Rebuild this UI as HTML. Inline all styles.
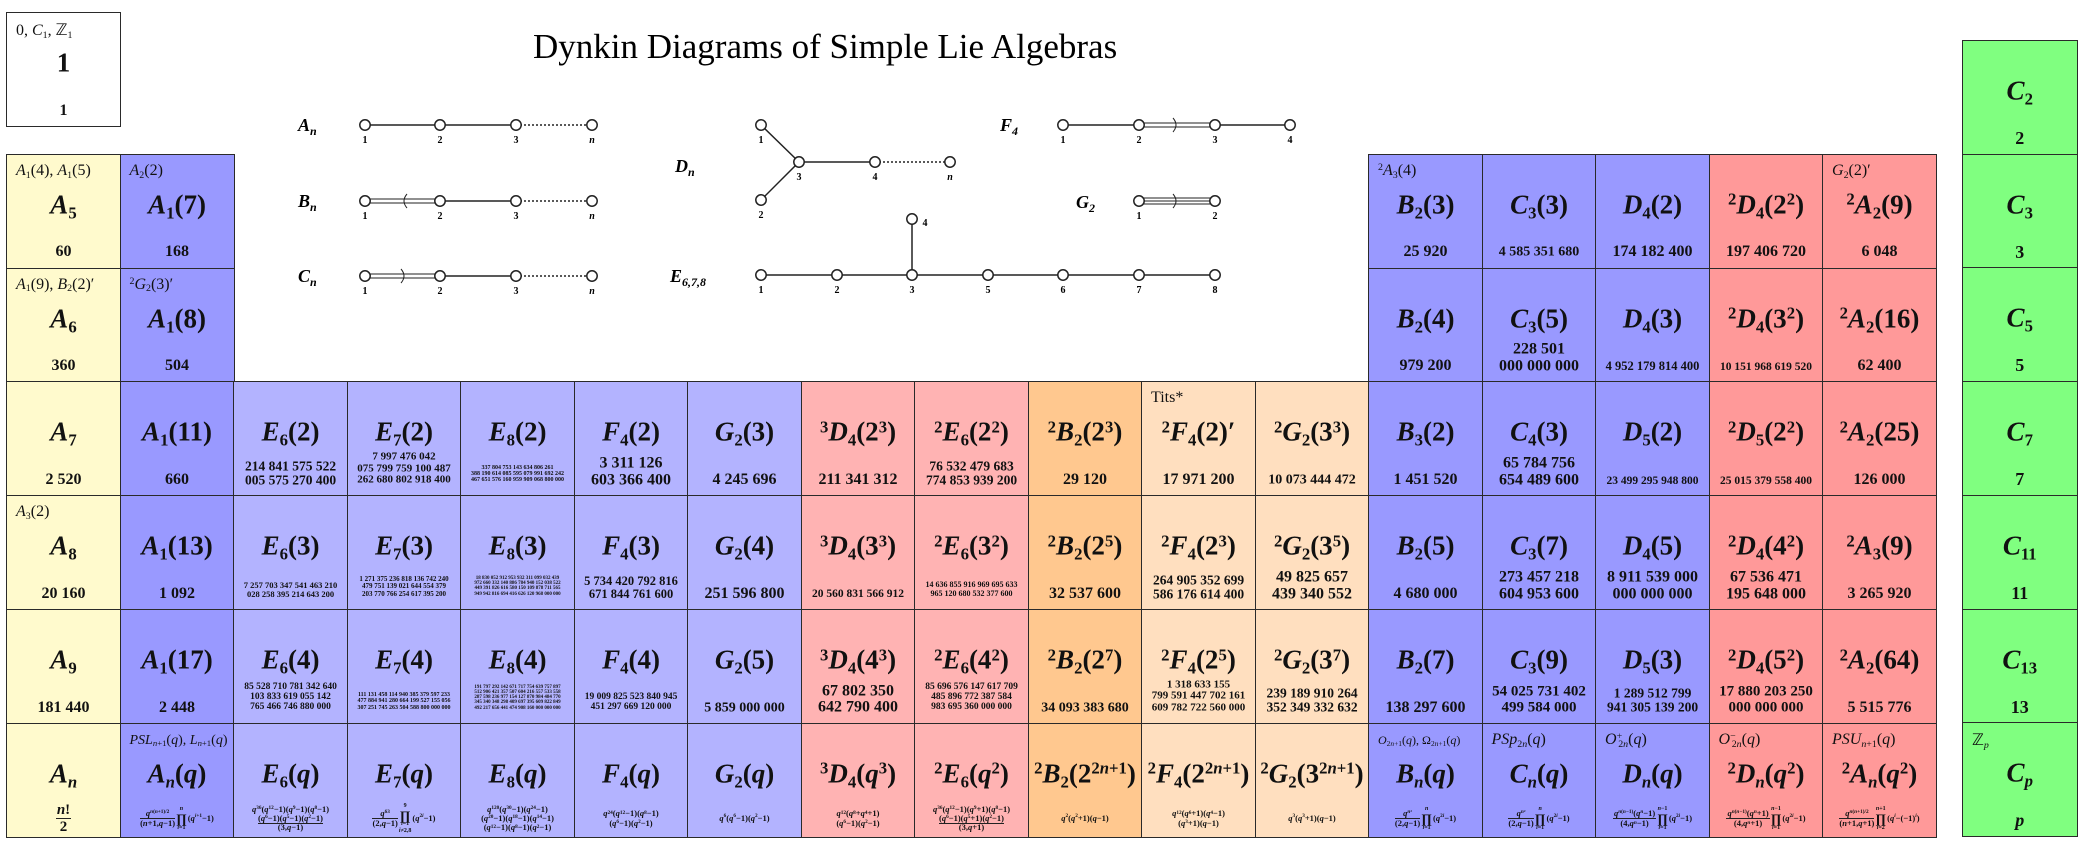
<!DOCTYPE html>
<html><head><meta charset="utf-8">
<style>
html,body{margin:0;padding:0;background:#fff;}
body{width:2084px;height:844px;position:relative;overflow:hidden;font-family:"Liberation Serif",serif;color:#111;}
.cell{position:absolute;box-sizing:border-box;border:1.5px solid #2a2a2a;}
.lab{position:absolute;left:9px;top:7px;font-size:16px;white-space:nowrap;}
.nm{position:absolute;left:0;right:0;top:50px;transform:translateY(-50%);text-align:center;font-weight:bold;font-size:27px;white-space:nowrap;line-height:1;}
.ord{position:absolute;left:0;right:0;text-align:center;font-weight:bold;white-space:nowrap;}
.ord div{line-height:1.05;}
sub,sup{font-size:62%;line-height:0;position:relative;vertical-align:baseline;}
sub{top:0.3em;} sup{top:-0.5em;}
.frm{position:absolute;left:0;right:0;top:80px;height:30px;display:flex;align-items:center;justify-content:center;font-size:8.5px;font-weight:bold;white-space:nowrap;line-height:1.1;text-align:center;}
.fr{display:inline-flex;flex-direction:column;vertical-align:middle;text-align:center;}
.fr .t{border-bottom:1px solid #222;padding:0 1px;}
.pr{display:inline-flex;flex-direction:column;vertical-align:middle;text-align:center;font-size:6px;margin:0 1px;}
.pr b{font-size:13px;line-height:0.9;}
</style></head>
<body>
<svg id="dyn" width="2084" height="844" style="position:absolute;left:0;top:0" xmlns="http://www.w3.org/2000/svg">
<text x="533" y="58" font-family="Liberation Serif" font-size="35">Dynkin Diagrams of Simple Lie Algebras</text>
</svg>
<div id="grid"></div>
<script>
var X0=6,CW=113.5,Y0=153.7,RH=113.8;
var colColors=["#fffacd","#9999ff","#b3b3ff","#b3b3ff","#b3b3ff","#b3b3ff","#b3b3ff","#ffb3b3","#ffb3b3","#ffc88f","#ffdfbf","#ffdfbf","#9999ff","#9999ff","#9999ff","#ff9999","#ff9999"];
function N(pre,L,sub,arg){return (pre?'<sup>'+pre+'</sup>':'')+'<i>'+L+'</i>'+(sub!==''?'<sub>'+sub+'</sub>':'')+(arg!==null?'('+arg+')':'');}
function fr(t,b){return '<span class="fr"><span class="t">'+t+'</span><span>'+b+'</span></span>';}
function pr(top,bot){return '<span class="pr"><span>'+top+'</span><b>&prod;</b><span>'+bot+'</span></span>';}
var q='<i>q</i>';
function qp(e){return q+'<sup>'+e+'</sup>';}
var cells=[
[0,0,N('','A','1','4')+', '+N('','A','1','5'),N('','A','5',null),["60"]],
[0,1,N('','A','2','2'),N('','A','1','7'),["168"]],
[0,12,N('2','A','3','4'),N('','B','2','3'),["25 920"]],
[0,13,'',N('','C','3','3'),["4 585 351 680"]],
[0,14,'',N('','D','4','2'),["174 182 400"]],
[0,15,'',N('2','D','4','2<sup>2</sup>'),["197 406 720"]],
[0,16,N('','G','2','2')+'&prime;',N('2','A','2','9'),["6 048"]],
[1,0,N('','A','1','9')+', '+N('','B','2','2')+'&prime;',N('','A','6',null),["360"]],
[1,1,N('2','G','2','3')+'&prime;',N('','A','1','8'),["504"]],
[1,12,'',N('','B','2','4'),["979 200"]],
[1,13,'',N('','C','3','5'),["228 501","000 000 000"]],
[1,14,'',N('','D','4','3'),["4 952 179 814 400"]],
[1,15,'',N('2','D','4','3<sup>2</sup>'),["10 151 968 619 520"]],
[1,16,'',N('2','A','2','16'),["62 400"]],
[2,0,'',N('','A','7',null),["2 520"]],
[2,1,'',N('','A','1','11'),["660"]],
[2,2,'',N('','E','6','2'),["214 841 575 522","005 575 270 400"]],
[2,3,'',N('','E','7','2'),["7 997 476 042","075 799 759 100 487","262 680 802 918 400"]],
[2,4,'',N('','E','8','2'),["337 804 753 143 634 806 261","388 190 614 085 595 079 991 692 242","467 651 576 160 959 909 068 800 000"]],
[2,5,'',N('','F','4','2'),["3 311 126","603 366 400"]],
[2,6,'',N('','G','2','3'),["4 245 696"]],
[2,7,'',N('3','D','4','2<sup>3</sup>'),["211 341 312"]],
[2,8,'',N('2','E','6','2<sup>2</sup>'),["76 532 479 683","774 853 939 200"]],
[2,9,'',N('2','B','2','2<sup>3</sup>'),["29 120"]],
[2,10,'Tits*',N('2','F','4','2')+'&prime;',["17 971 200"]],
[2,11,'',N('2','G','2','3<sup>3</sup>'),["10 073 444 472"]],
[2,12,'',N('','B','3','2'),["1 451 520"]],
[2,13,'',N('','C','4','3'),["65 784 756","654 489 600"]],
[2,14,'',N('','D','5','2'),["23 499 295 948 800"]],
[2,15,'',N('2','D','5','2<sup>2</sup>'),["25 015 379 558 400"]],
[2,16,'',N('2','A','2','25'),["126 000"]],
[3,0,N('','A','3','2'),N('','A','8',null),["20 160"]],
[3,1,'',N('','A','1','13'),["1 092"]],
[3,2,'',N('','E','6','3'),["7 257 703 347 541 463 210","028 258 395 214 643 200"]],
[3,3,'',N('','E','7','3'),["1 271 375 236 818 136 742 240","479 751 139 021 644 554 379","203 770 766 254 617 395 200"]],
[3,4,'',N('','E','8','3'),["18 830 052 912 953 932 311 099 032 439","972 660 332 140 886 784 940 152 038 522","449 391 826 616 580 150 109 878 711 565","949 942 816 694 416 626 120 968 000 000"]],
[3,5,'',N('','F','4','3'),["5 734 420 792 816","671 844 761 600"]],
[3,6,'',N('','G','2','4'),["251 596 800"]],
[3,7,'',N('3','D','4','3<sup>3</sup>'),["20 560 831 566 912"]],
[3,8,'',N('2','E','6','3<sup>2</sup>'),["14 636 855 916 969 695 633","965 120 680 532 377 600"]],
[3,9,'',N('2','B','2','2<sup>5</sup>'),["32 537 600"]],
[3,10,'',N('2','F','4','2<sup>3</sup>'),["264 905 352 699","586 176 614 400"]],
[3,11,'',N('2','G','2','3<sup>5</sup>'),["49 825 657","439 340 552"]],
[3,12,'',N('','B','2','5'),["4 680 000"]],
[3,13,'',N('','C','3','7'),["273 457 218","604 953 600"]],
[3,14,'',N('','D','4','5'),["8 911 539 000","000 000 000"]],
[3,15,'',N('2','D','4','4<sup>2</sup>'),["67 536 471","195 648 000"]],
[3,16,'',N('2','A','3','9'),["3 265 920"]],
[4,0,'',N('','A','9',null),["181 440"]],
[4,1,'',N('','A','1','17'),["2 448"]],
[4,2,'',N('','E','6','4'),["85 528 710 781 342 640","103 833 619 055 142","765 466 746 880 000"]],
[4,3,'',N('','E','7','4'),["111 131 458 114 940 385 379 597 233","477 884 941 280 664 199 527 155 056","307 251 745 263 504 588 800 000 000"]],
[4,4,'',N('','E','8','4'),["191 797 292 142 671 717 754 639 757 897","512 906 421 357 507 604 216 557 533 558","287 598 236 977 154 127 870 984 484 770","345 340 348 298 409 697 395 609 822 849","492 217 656 441 474 908 160 000 000 000"]],
[4,5,'',N('','F','4','4'),["19 009 825 523 840 945","451 297 669 120 000"]],
[4,6,'',N('','G','2','5'),["5 859 000 000"]],
[4,7,'',N('3','D','4','4<sup>3</sup>'),["67 802 350","642 790 400"]],
[4,8,'',N('2','E','6','4<sup>2</sup>'),["85 696 576 147 617 709","485 896 772 387 584","983 695 360 000 000"]],
[4,9,'',N('2','B','2','2<sup>7</sup>'),["34 093 383 680"]],
[4,10,'',N('2','F','4','2<sup>5</sup>'),["1 318 633 155","799 591 447 702 161","609 782 722 560 000"]],
[4,11,'',N('2','G','2','3<sup>7</sup>'),["239 189 910 264","352 349 332 632"]],
[4,12,'',N('','B','2','7'),["138 297 600"]],
[4,13,'',N('','C','3','9'),["54 025 731 402","499 584 000"]],
[4,14,'',N('','D','5','3'),["1 289 512 799","941 305 139 200"]],
[4,15,'',N('2','D','4','5<sup>2</sup>'),["17 880 203 250","000 000 000"]],
[4,16,'',N('2','A','2','64'),["5 515 776"]]
];
var ni='<i>n</i>';
var bottom=[
[0,'',N('','A',ni,null),'<span style="font-size:15px">'+fr('<i>n</i>!','2')+'</span>'],
[1,'<span style="font-size:14px"><i>PSL</i><sub><i>n</i>+1</sub>('+q+'), <i>L</i><sub><i>n</i>+1</sub>('+q+')</span>',N('','A',ni,q),fr(qp('<i>n</i>(<i>n</i>+1)/2'),'(<i>n</i>+1,'+q+'&minus;1)')+pr('<i>n</i>','<i>i</i>=1')+'('+qp('<i>i</i>+1')+'&minus;1)'],
[2,'',N('','E','6',q),'<div>'+qp('36')+'('+qp('12')+'&minus;1)('+qp('9')+'&minus;1)('+qp('8')+'&minus;1)<br><span style="border-bottom:1px solid #222">('+qp('6')+'&minus;1)('+qp('5')+'&minus;1)('+qp('2')+'&minus;1)</span><br>(3,'+q+'&minus;1)</div>'],
[3,'',N('','E','7',q),fr(qp('63'),'(2,'+q+'&minus;1)')+pr('9','<i>i</i>=1<br><i>i</i>&ne;2,8')+'('+qp('2<i>i</i>')+'&minus;1)'],
[4,'',N('','E','8',q),'<div>'+qp('120')+'('+qp('30')+'&minus;1)('+qp('24')+'&minus;1)<br>('+qp('20')+'&minus;1)('+qp('18')+'&minus;1)('+qp('14')+'&minus;1)<br>('+qp('12')+'&minus;1)('+qp('8')+'&minus;1)('+qp('2')+'&minus;1)</div>'],
[5,'',N('','F','4',q),'<div>'+qp('24')+'('+qp('12')+'&minus;1)('+qp('8')+'&minus;1)<br>('+qp('6')+'&minus;1)('+qp('2')+'&minus;1)</div>'],
[6,'',N('','G','2',q),qp('6')+'('+qp('6')+'&minus;1)('+qp('2')+'&minus;1)'],
[7,'',N('3','D','4',q+'<sup>3</sup>'),'<div>'+qp('12')+'('+qp('8')+'+'+qp('4')+'+1)<br>('+qp('6')+'&minus;1)('+qp('2')+'&minus;1)</div>'],
[8,'',N('2','E','6',q+'<sup>2</sup>'),'<div>'+qp('36')+'('+qp('12')+'&minus;1)('+qp('9')+'+1)('+qp('8')+'&minus;1)<br><span style="border-bottom:1px solid #222">('+qp('6')+'&minus;1)('+qp('5')+'+1)('+qp('2')+'&minus;1)</span><br>(3,'+q+'+1)</div>'],
[9,'',N('2','B','2','2<sup>2<i>n</i>+1</sup>'),qp('2')+'('+qp('2')+'+1)('+q+'&minus;1)'],
[10,'',N('2','F','4','2<sup>2<i>n</i>+1</sup>'),'<div>'+qp('12')+'('+qp('6')+'+1)('+qp('4')+'&minus;1)<br>('+qp('3')+'+1)('+q+'&minus;1)</div>'],
[11,'',N('2','G','2','3<sup>2<i>n</i>+1</sup>'),qp('3')+'('+qp('3')+'+1)('+q+'&minus;1)'],
[12,'<span style="font-size:12px"><i>O</i><sub>2<i>n</i>+1</sub>('+q+'), &Omega;<sub>2<i>n</i>+1</sub>('+q+')</span>',N('','B',ni,q),fr(qp('<i>n</i><sup>2</sup>'),'(2,'+q+'&minus;1)')+pr('<i>n</i>','<i>i</i>=1')+'('+qp('2<i>i</i>')+'&minus;1)'],
[13,'<i>PSp</i><sub>2<i>n</i></sub>('+q+')',N('','C',ni,q),fr(qp('<i>n</i><sup>2</sup>'),'(2,'+q+'&minus;1)')+pr('<i>n</i>','<i>i</i>=1')+'('+qp('2<i>i</i>')+'&minus;1)'],
[14,'<i>O</i><sup>+</sup><sub style="margin-left:-0.4em">2<i>n</i></sub>('+q+')',N('','D',ni,q),fr(qp('<i>n</i>(<i>n</i>&minus;1)')+'('+qp('<i>n</i>')+'&minus;1)','(4,'+qp('<i>n</i>')+'&minus;1)')+pr('<i>n</i>&minus;1','<i>i</i>=1')+'('+qp('2<i>i</i>')+'&minus;1)'],
[15,'<i>O</i><sup>&minus;</sup><sub style="margin-left:-0.4em">2<i>n</i></sub>('+q+')',N('2','D',ni,q+'<sup>2</sup>'),fr(qp('<i>n</i>(<i>n</i>&minus;1)')+'('+qp('<i>n</i>')+'+1)','(4,'+qp('<i>n</i>')+'+1)')+pr('<i>n</i>&minus;1','<i>i</i>=1')+'('+qp('2<i>i</i>')+'&minus;1)'],
[16,'<i>PSU</i><sub><i>n</i>+1</sub>('+q+')',N('2','A',ni,q+'<sup>2</sup>'),fr(qp('<i>n</i>(<i>n</i>+1)/2'),'(<i>n</i>+1,'+q+'+1)')+pr('<i>n</i>+1','<i>i</i>=2')+'('+qp('<i>i</i>')+'&minus;(&minus;1)<sup><i>i</i></sup>)']
];
var greenNames=["2","3","5","7","11","13","p"];
var grid=document.getElementById('grid');
function mkCell(x,y,w,h,bg){
  var d=document.createElement('div');d.className='cell';
  d.style.left=x+'px';d.style.top=y+'px';d.style.width=(w+1.5)+'px';d.style.height=(h+1.5)+'px';d.style.background=bg;
  grid.appendChild(d);return d;
}
function addLab(d,html){if(!html)return;var l=document.createElement('div');l.className='lab';l.innerHTML=html;
  
  
  d.appendChild(l);}
function addName(d,html,fs){var n=document.createElement('div');n.className='nm';n.innerHTML=html;if(fs)n.style.fontSize=fs+'px';
  
  
  d.appendChild(n);return n;}
function addOrd(d,lines){
  var o=document.createElement('div');o.className='ord';
  
  
  lines.forEach(function(s){var e=document.createElement('div');e.textContent=s;o.appendChild(e);});
  d.appendChild(o);
  var fs=16;o.style.fontSize=fs+'px';
  var maxw=(lines.length>1||lines[0].length>11)?94:100;
  function widest(){var m=0;for(var i=0;i<o.children.length;i++){var r=document.createRange();r.selectNodeContents(o.children[i]);m=Math.max(m,r.getBoundingClientRect().width);}return m;}
  while(widest()>maxw&&fs>4){fs-=0.5;o.style.fontSize=fs+'px';}
  if(lines.length==1&&lines[0].length>11&&fs>14){fs=14;o.style.fontSize=fs+'px';}
  o.style.top=(98+fs*0.55)+'px';o.style.transform='translateY(-100%)';
}
function fitName(n,maxw){var fs=27;while(n.getBoundingClientRect().width>maxw&&fs>12){fs-=1;n.style.fontSize=fs+'px';}}
var tb=mkCell(6,12,113.5,113,'#fff');


addLab(tb,'0, <i>C</i><sub>1</sub>, &#8484;<sub>1</sub>');
addName(tb,'1');
addOrd(tb,['1']);
cells.forEach(function(c){
  var d=mkCell(X0+CW*c[1],Y0+RH*c[0],CW,RH,colColors[c[1]]);
  
  
  addLab(d,c[2]);
  var n=addName(d,c[3]);
  n.style.display='inline-block';n.style.left='50%';n.style.right='auto';n.style.transform='translate(-50%,-50%)';
  fitName(n,106);
  addOrd(d,c[4]);
});
bottom.forEach(function(c){
  var d=mkCell(X0+CW*c[0],Y0+RH*5,CW,RH,colColors[c[0]]);
  
  
  addLab(d,c[1]);
  var n=addName(d,c[2]);
  n.style.display='inline-block';n.style.left='50%';n.style.right='auto';n.style.transform='translate(-50%,-50%)';
  fitName(n,106);
  var f=document.createElement('div');f.className='frm';f.innerHTML=c[3];
  
  
  d.appendChild(f);
});
greenNames.forEach(function(p,k){
  var d=mkCell(1962,40+113.7*k,114,113.7,'#80ff80');
  
  
  if(p=='p')addLab(d,'&#8484;<sub><i>p</i></sub>');
  addName(d,'<i>C</i><sub>'+(p=='p'?'<i>p</i>':p)+'</sub>');
  var o=document.createElement('div');o.className='ord';o.innerHTML=(p=='p'?'<i>p</i>':p);
  
  
  o.style.fontSize='18px';o.style.top='87px';d.appendChild(o);
});
var svg=document.getElementById('dyn');var NS='http://www.w3.org/2000/svg';
function el(t,a,name){var e=document.createElementNS(NS,t);for(var k in a)e.setAttribute(k,a[k]);
  
  
  svg.appendChild(e);return e;}
function line(x1,y1,x2,y2,dash){el('line',{x1:x1,y1:y1,x2:x2,y2:y2,stroke:'#222','stroke-width':1.5,'stroke-dasharray':dash?'2,2':''},'dynkin-edge');}
function dbl(x1,x2,y,n){var off=n==2?[-2,2]:[-3,0,3];off.forEach(function(o){el('line',{x1:x1,y1:y+o,x2:x2,y2:y+o,stroke:'#222','stroke-width':1},'dynkin-multi-edge');});}
function arrow(x,y,dir){el('path',{d:'M'+(x-3*dir)+' '+(y-7)+' Q'+(x+3*dir)+' '+y+' '+(x-3*dir)+' '+(y+7),fill:'none',stroke:'#222','stroke-width':1},'dynkin-arrow');}
function node(x,y,lab,lx,ly){el('circle',{cx:x,cy:y,r:5.2,fill:'#fff',stroke:'#222','stroke-width':1.5},'dynkin-node');
  var t=el('text',{x:lx!==undefined?lx:x,y:ly!==undefined?ly:y+18,'font-size':10,'font-weight':'bold','text-anchor':'middle','font-family':'Liberation Serif','font-style':lab=='n'?'italic':'normal'},'node-label');t.textContent=lab;}
function dlabel(x,y,L,s){var t=el('text',{x:x,y:y,'font-size':18,'font-weight':'bold','font-style':'italic','font-family':'Liberation Serif'},'diagram-label');
  t.textContent=L;var ts=document.createElementNS(NS,'tspan');ts.setAttribute('font-size','12');ts.setAttribute('dy','4');ts.textContent=s;t.appendChild(ts);}
var ax=[365,440,516,592];
[[125,'A',0],[201,'B',1],[276,'C',-1]].forEach(function(r){
  var y=r[0];dlabel(298,y+6,r[1],'n');
  if(r[2]==0)line(ax[0],y,ax[1],y);else{dbl(ax[0],ax[1],y,2);arrow(404,y,r[2]==1?-1:1);}
  line(ax[1],y,ax[2],y);line(ax[2],y,ax[3],y,true);
  node(ax[0],y,'1');node(ax[1],y,'2');node(ax[2],y,'3');node(ax[3],y,'n');
});
dlabel(675,172,'D','n');
line(761,125,799,162);line(761,200,799,162);line(799,162,875,162);line(875,162,950,162,true);
node(761,125,'1');node(761,200,'2');node(799,162,'3');node(875,162,'4');node(950,162,'n');
dlabel(1000,131,'F','4');
line(1063,125,1139,125);dbl(1139,1215,125,2);arrow(1176,125,1);line(1215,125,1290,125);
node(1063,125,'1');node(1139,125,'2');node(1215,125,'3');node(1290,125,'4');
dlabel(1076,208,'G','2');
dbl(1139,1215,201,3);arrow(1176,201,1);
node(1139,201,'1');node(1215,201,'2');
dlabel(670,282,'E','6,7,8');
var ex=[761,837,912,988,1063,1139,1215],el8=['1','2','3','5','6','7','8'];
for(var i=0;i<6;i++)line(ex[i],275,ex[i+1],275);
line(912,219,912,275);
ex.forEach(function(x,i){node(x,275,el8[i]);});
node(912,219,'4',925,226);
</script>
</body></html>
